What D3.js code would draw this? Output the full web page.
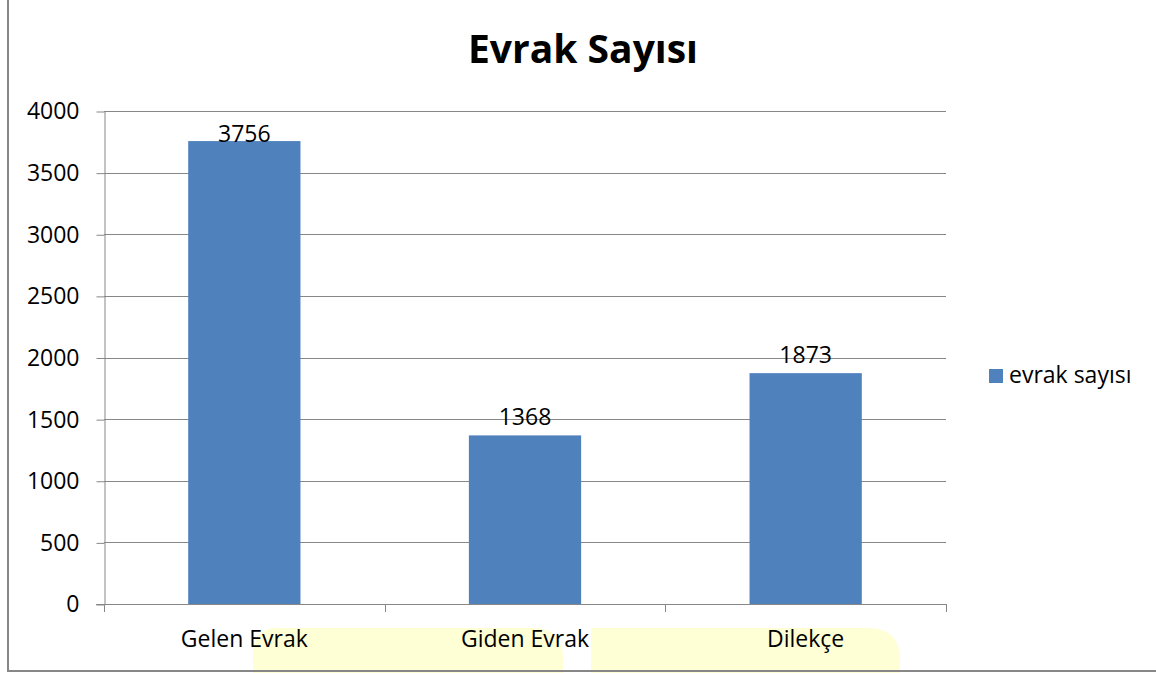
<!DOCTYPE html>
<html>
<head>
<meta charset="utf-8">
<script src="https://cdn.jsdelivr.net/npm/d3@7"></script>
<style>
	body { margin: 0; background: #fff; }
	text { font-family: "Open Sans", sans-serif; fill: #000; }
</style>
</head>
<body>
<div id="chart"></div>
<script>
var categories = ["Gelen Evrak", "Giden Evrak", "Dilekçe"];
var values = [3756, 1368, 1873];
var y_ticks = [0, 500, 1000, 1500, 2000, 2500, 3000, 3500, 4000];
var series_name = "evrak sayısı";
var title = "Evrak Sayısı";

var chart_width = 1156,
	chart_height = 673,
	plot = { left: 104, right: 946, top: 111, bottom: 604 },
	axis_color = "#878787",
	bar_color = "#4F81BD",
	font = "\"Open Sans\", sans-serif";

var svg = d3.select("#chart")
	.append("svg")
		.attr("width", chart_width)
		.attr("height", chart_height);

// yellow shapes behind the labels (from the page the chart was pasted into)
svg.append("path")
	.attr("d", "M253,673 L253,653 Q253,628 278,628 L533,628 Q563,628 563,658 L563,673 Z")
	.attr("fill", "#FFFFD5");
svg.append("path")
	.attr("d", "M591,673 L591,628 L868,628 Q900,628 900,660 L900,673 Z")
	.attr("fill", "#FFFFD5");

// outer frame (left and bottom only)
svg.append("path")
	.attr("d", "M8,0 L8,671 L1156,671")
	.attr("fill", "none")
	.attr("stroke", axis_color)
	.attr("stroke-width", 2);

var x = d3.scaleBand()
	.domain(categories)
	.range([plot.left, plot.right])
	.paddingInner(0.6)
	.paddingOuter(0.3);

var y = d3.scaleLinear()
	.domain([0, 4000])
	.range([plot.bottom, plot.top]);

// gridlines
svg.selectAll("line.grid")
	.data(y_ticks.slice(1))
	.enter()
	.append("line")
	.attr("class", "grid")
	.attr("x1", plot.left)
	.attr("x2", plot.right)
	.attr("y1", function(d) { return Math.round(y(d)) + 0.5; })
	.attr("y2", function(d) { return Math.round(y(d)) + 0.5; })
	.attr("stroke", axis_color);

// y axis
var yAxis = svg.append("g")
	.attr("transform", "translate(" + (plot.left + 0.5) + ",0.5)")
	.call(d3.axisLeft(y).tickValues(y_ticks).tickFormat(d3.format("d"))
		.tickSize(8).tickSizeOuter(0).tickPadding(17));
yAxis.select(".domain").attr("stroke", axis_color);
yAxis.selectAll(".tick line").attr("stroke", axis_color);
yAxis.selectAll(".tick text")
	.attr("font-size", 23)
	.attr("font-family", font)
	.attr("fill", "#000");

// bars
svg.selectAll("rect.bar")
	.data(values)
	.enter()
	.append("rect")
	.attr("class", "bar")
	.attr("x", function(d, i) { return x(categories[i]); })
	.attr("y", function(d) { return y(d); })
	.attr("width", x.bandwidth())
	.attr("height", function(d) { return plot.bottom - y(d); })
	.attr("fill", bar_color);

// x axis line and ticks at band boundaries
svg.append("line")
	.attr("x1", plot.left - 8)
	.attr("x2", plot.right)
	.attr("y1", plot.bottom + 0.5)
	.attr("y2", plot.bottom + 0.5)
	.attr("stroke", axis_color);

var boundaries = d3.range(categories.length + 1);
svg.selectAll("line.xtick")
	.data(boundaries)
	.enter()
	.append("line")
	.attr("class", "xtick")
	.attr("x1", function(d) { return Math.round(plot.left + d * x.step()) + 0.5; })
	.attr("x2", function(d) { return Math.round(plot.left + d * x.step()) + 0.5; })
	.attr("y1", plot.bottom)
	.attr("y2", plot.bottom + 8)
	.attr("stroke", axis_color);

svg.selectAll("text.cat")
	.data(categories)
	.enter()
	.append("text")
	.attr("class", "cat")
	.text(function(d) { return d; })
	.attr("x", function(d) { return x(d) + x.bandwidth() / 2; })
	.attr("y", 647)
	.attr("text-anchor", "middle")
	.attr("font-size", 23);

// value labels
svg.selectAll("text.val")
	.data(values)
	.enter()
	.append("text")
	.attr("class", "val")
	.text(function(d) { return d; })
	.attr("x", function(d, i) { return x(categories[i]) + x.bandwidth() / 2; })
	.attr("y", function(d) { return Math.max(y(d) - 10, plot.top + 31); })
	.attr("text-anchor", "middle")
	.attr("font-size", 23);

// title
svg.append("text")
	.text(title)
	.attr("x", 583)
	.attr("y", 63)
	.attr("text-anchor", "middle")
	.attr("font-size", 39)
	.attr("font-weight", "bold");

// legend
svg.append("rect")
	.attr("x", 989)
	.attr("y", 369)
	.attr("width", 14)
	.attr("height", 14)
	.attr("fill", bar_color);
svg.append("text")
	.text(series_name)
	.attr("x", 1009)
	.attr("y", 383)
	.attr("font-size", 23);
</script>
</body>
</html>
